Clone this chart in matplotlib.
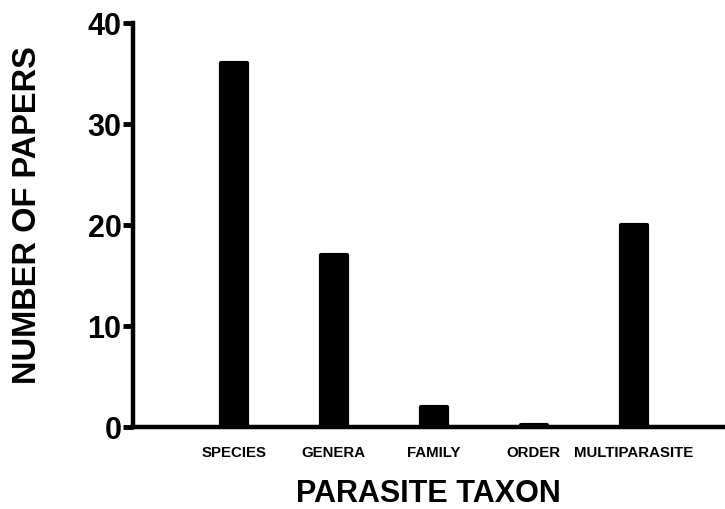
import matplotlib.pyplot as plt

plt.rcParams['font.family'] = ['Liberation Sans', 'DejaVu Sans']
plt.rcParams['font.weight'] = 'bold'

taxa = ['SPECIES', 'GENERA', 'FAMILY', 'ORDER', 'MULTIPARASITE']
papers = [36, 17, 2, 0.2, 20]
yticks = [0, 10, 20, 30, 40]

fig = plt.figure(figsize=(7.25, 5.1), dpi=100)
ax = fig.add_axes([0.183, 0.161, 0.817, 0.792])

ax.bar(range(len(taxa)), papers, width=0.26, color='black',
       edgecolor='black', linewidth=3, joinstyle='round')

ax.set_xlim(-1.01, 4.91)
ax.set_ylim(0, 40)
ax.set_yticks(yticks)
ax.set_xticks(range(len(taxa)))
ax.set_xticklabels(taxa, fontsize=10.8, fontweight='bold')
ax.tick_params(axis='x', length=0, pad=13)
ax.tick_params(axis='y', length=7, width=3.5, labelsize=22, pad=1)
for lab in ax.get_yticklabels():
    lab.set_fontweight('bold')

for side in ['top', 'right']:
    ax.spines[side].set_visible(False)
for side in ['left', 'bottom']:
    ax.spines[side].set_linewidth(3.2)
ax.spines['left'].set_bounds(0, 40)

ax.set_xlabel('PARASITE TAXON', fontsize=22, fontweight='bold', labelpad=14)
ax.set_ylabel('NUMBER OF PAPERS', fontsize=23.5, fontweight='bold')
ax.yaxis.set_label_coords(-0.152, 0.527)

fig.savefig('out.png', dpi=100)
